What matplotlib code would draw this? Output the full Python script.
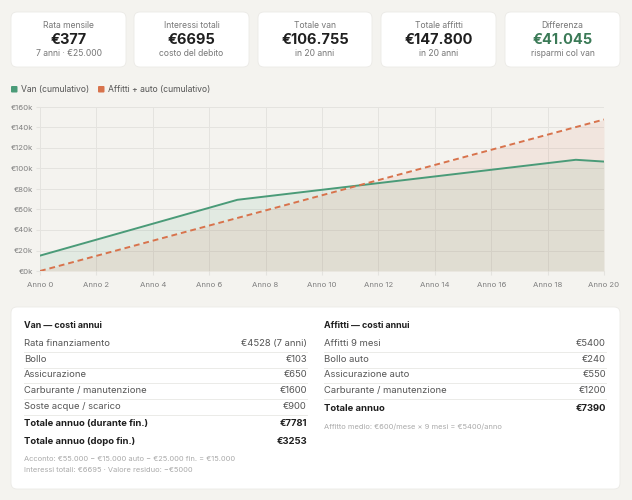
import matplotlib.pyplot as plt
from matplotlib.patches import FancyBboxPatch, Rectangle

plt.rcParams['font.family'] = ['Inter', 'DejaVu Sans']

# Data
years = list(range(21))
van_cum = [15000, 22781, 30562, 38343, 46124, 53905, 61686, 69467, 72720, 75973,
           79226, 82479, 85732, 88985, 92238, 95491, 98744, 101997, 105250, 108503, 106755]
rent_cum = [0, 7390, 14780, 22170, 29560, 36950, 44340, 51730, 59120, 66510, 73900,
            81290, 88680, 96070, 103460, 110850, 118240, 125630, 133020, 140410, 147800]

kpi_titles = ["Rata mensile", "Interessi totali", "Totale van", "Totale affitti", "Differenza"]
kpi_values = ["€377", "€6695", "€106.755", "€147.800", "€41.045"]
kpi_subs = ["7 anni · €25.000", "costo del debito", "in 20 anni", "in 20 anni", "risparmi col van"]

van_rows = [("Rata finanziamento", "€4528 (7 anni)"), ("Bollo", "€103"), ("Assicurazione", "€650"),
            ("Carburante / manutenzione", "€1600"), ("Soste acque / scarico", "€900")]
van_totals = [("Totale annuo (durante fin.)", "€7781"), ("Totale annuo (dopo fin.)", "€3253")]
van_notes = ["Acconto: €55.000 − €15.000 auto − €25.000 fin. = €15.000",
             "Interessi totali: €6695 · Valore residuo: −€5000"]
rent_rows = [("Affitti 9 mesi", "€5400"), ("Bollo auto", "€240"), ("Assicurazione auto", "€550"),
             ("Carburante / manutenzione", "€1200")]
rent_totals = [("Totale annuo", "€7390")]
rent_notes = ["Affitto medio: €600/mese × 9 mesi = €5400/anno"]

BG = "#f4f3ef"
GREEN = "#4a9b78"
ORANGE = "#d8734c"
DARK = "#1f1f1f"
GREY = "#777777"
LIGHT = "#aaaaaa"
LINE = "#ebebe8"

W, H = 632, 500
fig = plt.figure(figsize=(W / 100, H / 100), dpi=100, facecolor=BG)
bg = fig.add_axes([0, 0, 1, 1])
bg.set_xlim(0, W)
bg.set_ylim(H, 0)
bg.axis('off')


def card(x0, y0, x1, y1):
    bg.add_patch(FancyBboxPatch((x0, y0), x1 - x0, y1 - y0, boxstyle="round,pad=0,rounding_size=6",
                                facecolor="white", edgecolor="#ebeae6", linewidth=0.6))


# KPI cards
card_x = [(11, 126), (134, 249), (258, 372), (381, 496), (505, 620)]
for i, (x0, x1) in enumerate(card_x):
    card(x0, 12, x1, 67)
    cx = (x0 + x1) / 2
    bg.text(cx, 26, kpi_titles[i], ha='center', va='center', fontsize=6.2, color=GREY)
    bg.text(cx, 40.5, kpi_values[i], ha='center', va='center', fontsize=10.5, fontweight='bold',
            color="#3b7a57" if i == 4 else DARK)
    bg.text(cx, 54, kpi_subs[i], ha='center', va='center', fontsize=6.2, color=GREY)

# Legend
bg.add_patch(FancyBboxPatch((11, 86), 6.5, 6.5, boxstyle="round,pad=0,rounding_size=1",
                            facecolor=GREEN, edgecolor='none'))
bg.text(21, 89.5, "Van (cumulativo)", va='center', fontsize=6.2, color="#555555")
bg.add_patch(FancyBboxPatch((98, 86), 6.5, 6.5, boxstyle="round,pad=0,rounding_size=1",
                            facecolor=ORANGE, edgecolor='none'))
bg.text(108, 89.5, "Affitti + auto (cumulativo)", va='center', fontsize=6.2, color="#555555")

# Bottom card
card(11, 307, 620, 489)


def column(x_left, x_right, header, rows, totals, notes):
    bg.text(x_left, 326, header, va='center', fontsize=6.4, fontweight='bold', color=DARK)
    y = 343.5
    for j, (lab, val) in enumerate(rows):
        bg.text(x_left, y, lab, va='center', fontsize=6.8, color="#555555")
        bg.text(x_right, y, val, va='center', ha='right', fontsize=6.8, color="#555555")
        bg.plot([x_left, x_right], [y + 8.5, y + 8.5], color=LINE, lw=0.7)
        y += 15.7
    y += 2
    for lab, val in totals:
        bg.text(x_left, y, lab, va='center', fontsize=6.8, fontweight='bold', color=DARK)
        bg.text(x_right, y, val, va='center', ha='right', fontsize=6.8, fontweight='bold', color=DARK)
        y += 17.5
    y += 0.5
    for n in notes:
        bg.text(x_left, y, n, va='center', fontsize=5.4, color=LIGHT)
        y += 11


column(24, 307, "Van — costi annui", van_rows, van_totals, van_notes)
column(324, 606, "Affitti — costi annui", rent_rows, rent_totals, rent_notes)

# Chart
ax_l, ax_r, ax_t, ax_b = 40, 604, 107, 271
ax = fig.add_axes([ax_l / W, 1 - ax_b / H, (ax_r - ax_l) / W, (ax_b - ax_t) / H])
ax.set_facecolor('none')
ax.fill_between(years, van_cum, color=GREEN, alpha=0.10, lw=0)
ax.fill_between(years, rent_cum, color=ORANGE, alpha=0.10, lw=0)
ax.plot(years, van_cum, color=GREEN, lw=1.4)
ax.plot(years, rent_cum, color=ORANGE, lw=1.4, dashes=(3, 2))
ax.set_xlim(0, 20)
ax.set_ylim(0, 160000)
ax.set_xticks(range(0, 21, 2))
ax.set_xticklabels([f"Anno {y}" for y in range(0, 21, 2)])
ax.set_yticks(range(0, 160001, 20000))
ax.set_yticklabels([f"€{v // 1000}k" for v in range(0, 160001, 20000)])
ax.grid(True, color="#e4e3df", lw=0.7)
ax.set_axisbelow(True)
for s in ax.spines.values():
    s.set_visible(False)
ax.tick_params(axis='both', length=3, color="#e4e3df", labelsize=5.6, labelcolor="#808080")
ax.tick_params(axis='x', pad=5)
ax.tick_params(axis='y', pad=2)

fig.savefig("out.png", dpi=100, facecolor=BG)
